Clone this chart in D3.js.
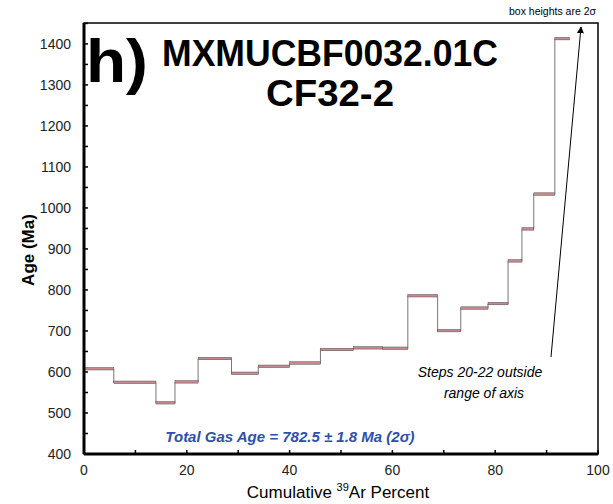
<!DOCTYPE html>
<html><head><meta charset="utf-8">
<script src="https://cdn.jsdelivr.net/npm/d3@7"></script>
<style>body{margin:0;background:#fff;font-family:"Liberation Sans",Arial,sans-serif}</style>
</head><body>
<svg id="chart" width="613" height="504"></svg>
<script>
// step boundaries (cumulative 39Ar %) and ages (Ma)
let stepStart = [0, 5.8, 14.0, 17.7, 22.2, 28.7, 33.9, 40.0, 46.0, 52.4, 58.1, 63.0, 68.8, 73.3, 78.6, 82.5, 85.2, 87.5, 91.6];
let stepEnd   = [5.8, 14.0, 17.7, 22.2, 28.7, 33.9, 40.0, 46.0, 52.4, 58.1, 63.0, 68.8, 73.3, 78.6, 82.5, 85.2, 87.5, 91.6, 94.5];
let stepAge   = [607, 574, 524, 575, 632, 596, 613, 621, 654, 658, 657, 785, 700, 755, 766, 870, 948, 1033, 1412];
let stepErr   = [3, 3, 3, 3, 3, 3, 3, 3, 3, 3, 3, 3, 3, 3, 3, 3, 3, 3, 3];
let xTicks = [0, 20, 40, 60, 80, 100];
let yTicks = [400, 500, 600, 700, 800, 900, 1000, 1100, 1200, 1300, 1400];

let svg = d3.select("#chart"),
    margin = {top: 23, right: 15, bottom: 50, left: 84},
    width = 598 - margin.left,
    height = 454 - margin.top,
    g = svg.append("g").attr("transform", "translate(" + margin.left + "," + margin.top + ")");

let x = d3.scaleLinear().domain([0, 100]).range([0, width]);
let y = d3.scaleLinear().domain([400, 1451]).range([height, 0]);

// connectors between steps
let steps = stepAge.map((a, i) => ({x0: stepStart[i], x1: stepEnd[i], age: a, err: stepErr[i]}));
let path = d3.path();
steps.forEach((d, i) => {
    if (i === 0) path.moveTo(x(d.x0), y(d.age)); else path.lineTo(x(d.x0), y(d.age));
    path.lineTo(x(d.x1), y(d.age));
});
g.append("path").attr("d", path.toString()).attr("fill", "none")
    .attr("stroke", "#777").attr("stroke-width", 1);

g.selectAll(".box").data(steps).enter().append("rect")
    .attr("x", d => x(d.x0))
    .attr("width", d => x(d.x1) - x(d.x0))
    .attr("y", d => y(d.age + d.err / 2) - 1)
    .attr("height", d => Math.max(2.5, y(d.age - d.err / 2) - y(d.age + d.err / 2)))
    .attr("fill", "#c7888e").attr("stroke", "#555").attr("stroke-width", 0.5);

// axes
let yMinor = d3.range(450, 1451, 100);
let xMinor = d3.range(10, 100, 20);
g.selectAll(".yt").data(yTicks.concat(yMinor)).enter().append("line")
    .attr("x1", 0).attr("x2", 4).attr("y1", d => y(d)).attr("y2", d => y(d))
    .attr("stroke", "#000").attr("stroke-width", 1.5);
g.selectAll(".xt").data(xTicks.concat(xMinor)).enter().append("line")
    .attr("y1", height).attr("y2", height - 4).attr("x1", d => x(d)).attr("x2", d => x(d))
    .attr("stroke", "#000").attr("stroke-width", 1.5);
g.selectAll(".yl").data(yTicks).enter().append("text")
    .attr("x", -13).attr("y", d => y(d) + 5).attr("text-anchor", "end")
    .attr("font-size", 14).attr("fill", "#222").text(d => d);
g.selectAll(".xl").data(xTicks).enter().append("text")
    .attr("x", d => x(d)).attr("y", height + 21).attr("text-anchor", "middle")
    .attr("font-size", 14).attr("fill", "#222").text(d => d);

g.append("rect").attr("width", width).attr("height", height)
    .attr("fill", "none").attr("stroke", "#000").attr("stroke-width", 1.5);
g.append("line").attr("x1", 0).attr("x2", 0).attr("y1", 0).attr("y2", height)
    .attr("stroke", "#000").attr("stroke-width", 3);
g.append("line").attr("x1", 0).attr("x2", width).attr("y1", height).attr("y2", height)
    .attr("stroke", "#000").attr("stroke-width", 3);

// titles
svg.append("text").attr("transform", "translate(34,250) rotate(-90)")
    .attr("text-anchor", "middle").attr("font-size", 17).attr("font-weight", "bold").text("Age (Ma)");
let xt = svg.append("text").attr("x", 338).attr("y", 498).attr("text-anchor", "middle").attr("font-size", 17);
xt.append("tspan").text("Cumulative ");
xt.append("tspan").attr("font-size", 11).attr("dy", -7).text("39");
xt.append("tspan").attr("dy", 7).text("Ar Percent");

svg.append("text").attr("x", 86).attr("y", 82).attr("font-size", 62).attr("font-weight", "bold")
    .attr("textLength", 62).attr("lengthAdjust", "spacingAndGlyphs").text("h)");
svg.append("text").attr("x", 162).attr("y", 66)
    .attr("font-size", 36).attr("font-weight", "bold")
    .attr("textLength", 336).attr("lengthAdjust", "spacingAndGlyphs").text("MXMUCBF0032.01C");
svg.append("text").attr("x", 266).attr("y", 106)
    .attr("font-size", 36).attr("font-weight", "bold")
    .attr("textLength", 128).attr("lengthAdjust", "spacingAndGlyphs").text("CF32-2");

svg.append("text").attr("x", 290).attr("y", 442).attr("text-anchor", "middle")
    .attr("font-size", 15).attr("font-weight", "bold").attr("font-style", "italic")
    .attr("fill", "#2f4fa8").text("Total Gas Age = 782.5 ± 1.8 Ma (2σ)");

svg.append("text").attr("x", 596).attr("y", 15).attr("text-anchor", "end")
    .attr("font-size", 10.5).text("box heights are 2σ");
svg.append("text").attr("x", 480).attr("y", 377).attr("text-anchor", "middle")
    .attr("font-size", 14).attr("font-style", "italic").text("Steps 20-22 outside");
svg.append("text").attr("x", 484).attr("y", 398).attr("text-anchor", "middle")
    .attr("font-size", 14).attr("font-style", "italic").text("range of axis");

// arrow
svg.append("defs").append("marker").attr("id", "ah").attr("viewBox", "0 0 10 10")
    .attr("refX", 9).attr("refY", 5).attr("markerWidth", 7).attr("markerHeight", 7)
    .attr("orient", "auto").append("path").attr("d", "M0,0 L10,5 L0,10 Z").attr("fill", "#000");
svg.append("line").attr("x1", 551).attr("y1", 357).attr("x2", 581).attr("y2", 27)
    .attr("stroke", "#000").attr("stroke-width", 1).attr("marker-end", "url(#ah)");
</script>
</body></html>
